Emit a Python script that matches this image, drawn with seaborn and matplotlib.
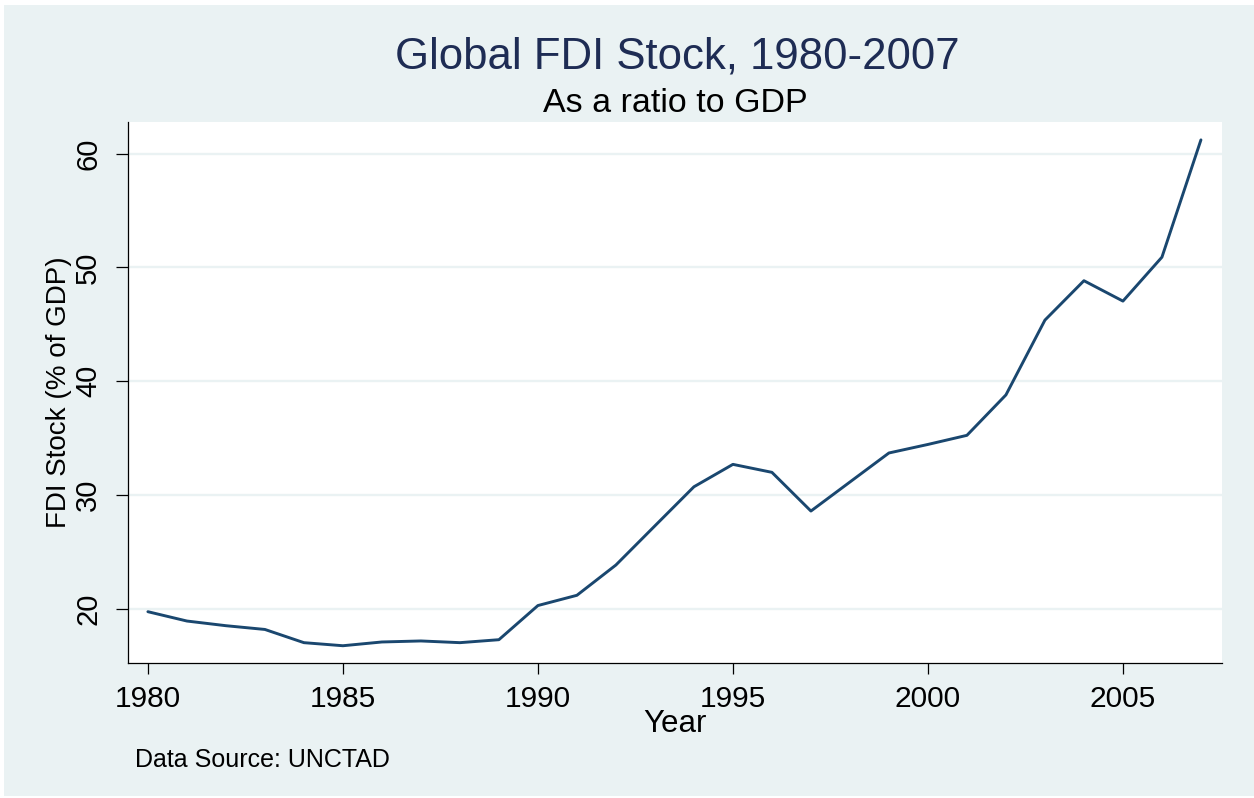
import matplotlib
matplotlib.use("Agg")
import matplotlib.pyplot as plt
from matplotlib.patches import Rectangle
import seaborn as sns
import pandas as pd

# ---- data ----
years = list(range(1980, 2008))
fdi_stock = [19.76, 18.94, 18.53, 18.20, 17.04, 16.77, 17.10, 17.19, 17.04, 17.30,
             20.30, 21.20, 23.86, 27.30, 30.73, 32.70, 32.00, 28.60, 31.15, 33.70,
             34.45, 35.25, 38.80, 45.37, 48.83, 47.04, 50.90, 61.20]
x_ticks = [1980, 1985, 1990, 1995, 2000, 2005]
y_ticks = [20, 30, 40, 50, 60]

df = pd.DataFrame({"Year": years, "FDI": fdi_stock})

sns.set_theme(style="white")
plt.rcParams['font.family'] = ['Liberation Sans', 'DejaVu Sans']

W, H = 1254, 798
BG = "#EAF2F3"
fig = plt.figure(figsize=(W / 100, H / 100), dpi=100, facecolor="white")
fig.patches.append(Rectangle((4 / W, 2 / H), (W - 4) / W, (796 - 5) / H,
                             transform=fig.transFigure, facecolor=BG,
                             edgecolor="none", zorder=-10))

left, right, top, bottom = 128, 1222, 122, 662.7
ax = fig.add_axes([left / W, (H - bottom) / H, (right - left) / W, (bottom - top) / H])
ax.set_facecolor("white")

sns.lineplot(data=df, x="Year", y="FDI", ax=ax, color="#1A476F", linewidth=2.1)

ax.set_xlim(1979.49, 2007.54)
ax.set_ylim(15.28, 62.77)
ax.set_xticks(x_ticks)
ax.set_yticks(y_ticks)
ax.grid(axis="y", color=BG, linewidth=1.7)
ax.grid(axis="x", visible=False)
ax.set_axisbelow(True)

for s in ["top", "right"]:
    ax.spines[s].set_visible(False)
for s in ["left", "bottom"]:
    ax.spines[s].set_color("black")
    ax.spines[s].set_linewidth(0.9)

ax.tick_params(axis="x", direction="out", length=8.2, width=0.9, pad=8,
               labelsize=21.5, colors="black", bottom=True)
ax.tick_params(axis="y", direction="out", length=8.6, width=0.9, pad=10,
               labelsize=21, colors="black", left=True)
for lab in ax.get_yticklabels():
    lab.set_rotation(90)
    lab.set_va("center")

ax.set_xlabel("Year", fontsize=22.5, color="black")
ax.xaxis.label.set_va("baseline")
ax.xaxis.set_label_coords(0.5, (bottom - 731.7) / (bottom - top))

ax.set_ylabel("FDI Stock (% of GDP)", fontsize=20, color="black")
ax.yaxis.set_label_coords((72 - left) / (right - left), 0.5)

fig.suptitle("Global FDI Stock, 1980-2007", x=677 / W, y=(H - 68) / H,
             va="baseline", ha="center", fontsize=31.5, color="#1E2C54")
ax.set_title("As a ratio to GDP", fontsize=24.5, color="black", pad=7.2)

fig.text(135 / W, (H - 766.7) / H, "Data Source: UNCTAD", fontsize=18,
         color="black", ha="left", va="baseline")

fig.savefig("out.png", dpi=100, facecolor="white")
